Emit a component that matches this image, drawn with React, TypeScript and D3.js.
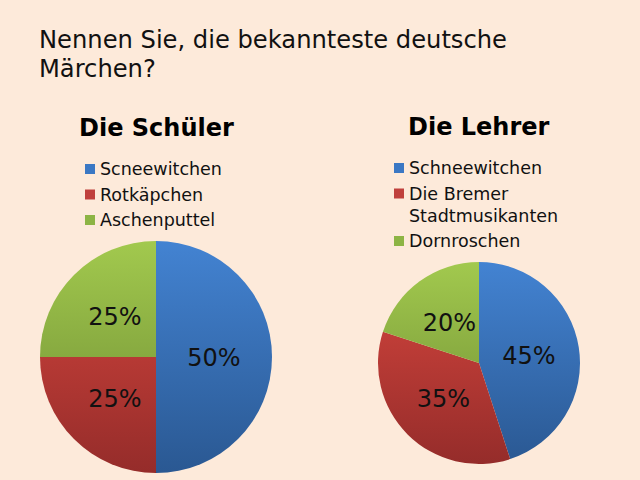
import React from "react";
import * as d3 from "d3";

const title = ["Nennen Sie, die bekannteste deutsche", "Märchen?"];
const leftTitle = "Die Schüler";
const rightTitle = "Die Lehrer";
const leftCategories = [["Scneewitchen"], ["Rotkäpchen"], ["Aschenputtel"]];
const leftValues = [50, 25, 25];
const rightCategories = [["Schneewitchen"], ["Die Bremer", "Stadtmusikanten"], ["Dornroschen"]];
const rightValues = [45, 35, 20];
const colorKeys = ["blue", "red", "green"];

const gradStops: Record<string, [string, string]> = {
  blue: ["#4383D2", "#2A5892"],
  red: ["#D8473F", "#952C2A"],
  green: ["#A2C94E", "#6C8A32"],
};
const swatch: Record<string, string> = { blue: "#3B78C4", red: "#C0403C", green: "#8DB444" };

const FONT = "DejaVu Sans, Verdana, sans-serif";

function Pie({ id, cx, cy, r, values }: { id: string; cx: number; cy: number; r: number; values: number[] }) {
  const pie = d3.pie<number>().sort(null).value((d) => d)(values);
  const arc = d3.arc<d3.PieArcDatum<number>>().innerRadius(0).outerRadius(r);
  const labelArc = d3.arc<d3.PieArcDatum<number>>().innerRadius(r * 0.5).outerRadius(r * 0.5);
  const total = d3.sum(values);
  return (
    <g>
      <defs>
        {colorKeys.map((k) => (
          <linearGradient key={k} id={`${id}-${k}`} gradientUnits="userSpaceOnUse" x1={0} y1={-r} x2={0} y2={r}>
            <stop offset="0" stopColor={gradStops[k][0]} />
            <stop offset="1" stopColor={gradStops[k][1]} />
          </linearGradient>
        ))}
      </defs>
      <g transform={`translate(${cx},${cy})`}>
        {pie.map((p, i) => (
          <path key={i} d={arc(p) || ""} fill={`url(#${id}-${colorKeys[i]})`} />
        ))}
        {pie.map((p, i) => {
          const [x, y] = labelArc.centroid(p);
          return (
            <text key={"l" + i} x={x} y={y} dy="0.36em" textAnchor="middle" fontFamily={FONT} fontSize={24} fill="#111">
              {Math.round((p.value / total) * 100)}%
            </text>
          );
        })}
      </g>
    </g>
  );
}

function Legend({ x, y, items }: { x: number; y: number; items: string[][] }) {
  let cur = y;
  const rows: React.ReactNode[] = [];
  items.forEach((lines, i) => {
    rows.push(
      <g key={i}>
        <rect x={x} y={cur - 11} width={10} height={10} fill={swatch[colorKeys[i]]} />
        {lines.map((ln, j) => (
          <text key={j} x={x + 15} y={cur + j * 22} fontFamily={FONT} fontSize={17.5} fill="#111">
            {ln}
          </text>
        ))}
      </g>
    );
    cur += 25.5 + (lines.length - 1) * 22;
  });
  return <g>{rows}</g>;
}

export default function App() {
  return (
    <svg width={640} height={480} style={{ position: "absolute", left: 0, top: 0, display: "block" }}>
      <rect width={640} height={480} fill="#FDEADA" />
      {title.map((t, i) => (
        <text key={i} x={39} y={48 + i * 29} fontFamily={FONT} fontSize={24.2} fill="#111">
          {t}
        </text>
      ))}
      <text x={79} y={136} fontFamily={FONT} fontSize={24} fontWeight="bold" fill="#000">
        {leftTitle}
      </text>
      <text x={408} y={135} fontFamily={FONT} fontSize={24} fontWeight="bold" fill="#000">
        {rightTitle}
      </text>
      <Legend x={85} y={175} items={leftCategories} />
      <Legend x={394} y={174} items={rightCategories} />
      <Pie id="left" cx={156} cy={357} r={116} values={leftValues} />
      <Pie id="right" cx={479} cy={363} r={101} values={rightValues} />
    </svg>
  );
}
